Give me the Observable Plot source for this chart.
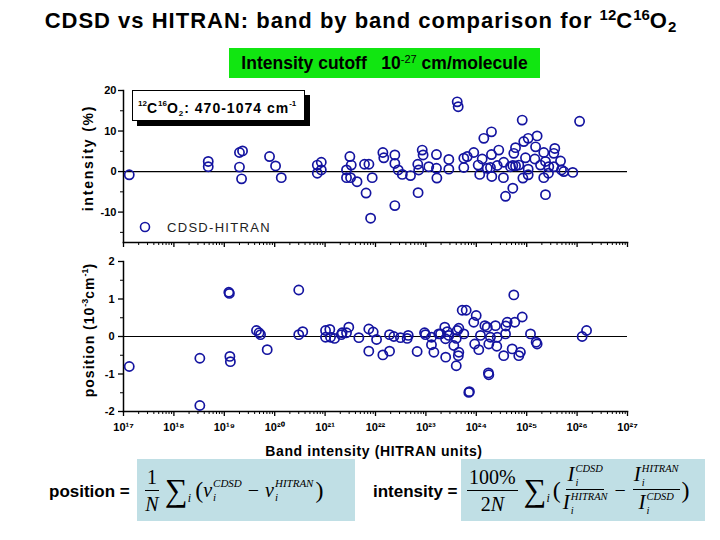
<!DOCTYPE html>
<html><head><meta charset="utf-8">
<script src="https://cdn.jsdelivr.net/npm/d3@7"></script>
<script src="https://cdn.jsdelivr.net/npm/@observablehq/plot@0.6"></script>
<style>
body{margin:0;background:#fff;}
#page{position:relative;width:720px;height:540px;overflow:hidden;background:#fff;font-family:"Liberation Sans",Arial,sans-serif;color:#000;}
.abs{position:absolute;}
#title{left:0;top:8px;width:722px;text-align:center;font-size:22px;font-weight:bold;letter-spacing:1px;white-space:nowrap;}
#title sup{font-size:15px;vertical-align:8px;line-height:0;letter-spacing:0;}
#title sub{font-size:15px;vertical-align:-4px;line-height:0;}
#cutoff{left:229px;top:48px;width:311px;height:30px;background:#11e611;font-size:17.5px;font-weight:bold;line-height:31px;text-align:center;white-space:nowrap;}
#cutoff sup{font-size:11px;vertical-align:6px;line-height:0;font-weight:normal;}
#annot{left:132px;top:90px;width:173px;height:31px;border:1px solid #000;background:#fff;box-shadow:5px 5px 0 #000;font-weight:bold;font-size:14px;line-height:35px;letter-spacing:1px;padding-left:5px;box-sizing:border-box;white-space:nowrap;}
#annot sup{font-size:8px;vertical-align:7px;line-height:0;letter-spacing:0;}
#annot sub{font-size:8px;vertical-align:-3px;line-height:0;}
#legend{left:137px;top:219px;font-size:13px;letter-spacing:1.3px;color:#222;display:flex;align-items:center;white-space:nowrap;}
.ylab{transform:rotate(-90deg);transform-origin:center;font-weight:bold;font-size:14px;white-space:nowrap;text-align:center;width:200px;height:16px;line-height:16px;}
.ylab sup{font-size:9px;vertical-align:6px;line-height:0;letter-spacing:0;}
#xlab{left:0;width:748px;top:443px;text-align:center;font-weight:bold;font-size:14px;letter-spacing:0.6px;}
.plot{position:absolute;left:0;}
.eqlab{font-weight:bold;font-size:17px;white-space:nowrap;}
.fbox{background:#c0dfe5;display:flex;align-items:center;box-sizing:border-box;font-family:"Liberation Serif","Times New Roman",serif;font-size:20px;white-space:nowrap;}
.frac{display:inline-flex;flex-direction:column;align-items:center;line-height:1;margin:0 2px;}
.frac > .num{border-bottom:1px solid #000;padding:0 2px 3px;}
.frac > .den{padding-top:3px;}
.sum{font-size:32px;margin-left:4px;line-height:1;}
.si{font-style:italic;font-size:12px;align-self:flex-end;margin-bottom:15px;}
.it{font-style:italic;}
.ss{display:inline-flex;flex-direction:column;justify-content:space-between;font-size:11px;font-style:italic;height:25px;vertical-align:middle;line-height:1;margin-left:1px;}
.fr2 .ss{font-size:10.5px;height:24px;}
.fr2{font-size:21px;}
.fr2 > .num{padding:0 1px 1px;}
.fr2 > .den{padding-top:2px;}
.op{margin:0 6px;}
.par{font-size:24px;line-height:1;}
</style></head><body><div id="page">
<div id="title" class="abs">CDSD vs HITRAN: band by band comparison for <sup>12</sup>C<sup>16</sup>O<sub>2</sub></div>
<div id="cutoff" class="abs">Intensity cutoff &nbsp;&nbsp;10<sup>-27</sup> cm/molecule</div>
<div id="top" class="plot" style="top:80px"></div>
<div id="bot" class="plot" style="top:251px"></div>
<div id="annot" class="abs"><sup>12</sup>C<sup>16</sup>O<sub>2</sub>: 470-1074 cm<sup>-1</sup></div>
<div id="legend" class="abs"><svg width="16" height="16" style="margin-right:14px"><circle cx="8" cy="8" r="4.5" fill="none" stroke="#1414a0" stroke-width="1.6"/></svg>CDSD-HITRAN</div>
<div class="abs ylab" style="left:-12px;top:150px;letter-spacing:1.8px;">intensity (%)</div>
<div class="abs ylab" style="left:-11px;top:322px;letter-spacing:1px;">position (10<sup>-3</sup>cm<sup>-1</sup>)</div>
<div id="xlab" class="abs">Band intensity (HITRAN units)</div>
<div class="abs eqlab" style="left:49px;top:482px;">position =</div>
<div class="abs fbox" style="left:137px;top:459px;width:218px;height:62px;padding-left:6px;">
  <div class="frac"><span class="num">1</span><span class="den it">N</span></div>
  <span class="sum">∑</span><span class="si">i</span>
  <span class="par" style="margin-left:4px">(</span>
  <span class="it">ν</span><span class="ss"><span>CDSD</span><span>i</span></span>
  <span class="op">−</span>
  <span class="it">ν</span><span class="ss"><span>HITRAN</span><span>i</span></span>
  <span class="par" style="margin-left:2px">)</span>
</div>
<div class="abs eqlab" style="left:373px;top:482px;">intensity =</div>
<div class="abs fbox" style="left:461px;top:459px;width:244px;height:62px;padding-left:4px;">
  <div class="frac"><span class="num">100%</span><span class="den">2<span class="it">N</span></span></div>
  <span class="sum">∑</span><span class="si">i</span>
  <span class="par" style="margin-left:3px">(</span>
  <div class="frac fr2"><span class="num"><span class="it">I</span><span class="ss"><span>CDSD</span><span>i</span></span></span><span class="den"><span class="it">I</span><span class="ss"><span>HITRAN</span><span>i</span></span></span></div>
  <span class="op" style="margin:0 5px">−</span>
  <div class="frac fr2"><span class="num"><span class="it">I</span><span class="ss"><span>HITRAN</span><span>i</span></span></span><span class="den"><span class="it">I</span><span class="ss"><span>CDSD</span><span>i</span></span></span></div>
  <span class="par">)</span>
</div>
</div>
<script>
// Top panel: intensity difference (%) vs HITRAN band intensity
const intensityX = [1.3e17,4.8e18,4.8e18,2.0e19,2.3e19,2.0e19,2.2e19,7.9e19,1.04e20,1.35e20,
  7.0e20,8.4e20,7.0e20,8.4e20,3.1e21,3.3e21,2.66e21,2.66e21,3.2e21,4.3e21,
  6.05e21,7.4e21,8.6e21,6.5e21,8.0e21,1.4e22,1.46e22,2.42e22,2.42e22,2.82e22,
  3.4e22,2.42e22,4.95e22,6.9e22,7.2e22,7.0e22,8.45e22,8.8e22,1.14e23,1.62e23,
  1.62e23,1.65e23,4.18e23,4.37e23,2.85e23,2.85e23,5.65e23,5.65e23,6.6e23,8.9e23,
  1.09e24,1.17e24,1.31e24,1.41e24,2.0e24,1.65e24,2.0e24,2.03e24,1.91e24,2.79e24,
  2.6e24,3.5e24,3.45e24,3.8e24,5.3e24,4.77e24,5.3e24,6.0e24,6.0e24,5.55e24,
  8.15e24,6.97e24,9.46e24,8.75e24,1.07e25,8.4e24,1.07e25,1.07e25,1.5e25,1.61e25,
  1.45e25,1.88e25,2.18e25,2.36e25,2.18e25,2.36e25,2.74e25,3.45e25,3.61e25,3.45e25,
  4.69e25,4.9e25,5.45e25,8.2e25,1.12e26,2.7e25];
const intensityDiff = [-0.8,2.5,1.2,4.7,5.1,1.1,-1.8,3.7,1.4,-1.5,
  1.6,2.3,-0.4,0.4,3.7,1.6,0.4,-1.5,-1.5,-2.5,
  1.8,1.8,-1.5,-5.3,-11.5,4.7,3.4,4.1,2.0,0.4,
  -0.7,-8.4,-1.0,1.8,0.4,-5.2,5.3,4.1,1.2,4.2,
  0.8,-1.6,17.2,16.0,3.0,0.6,3.3,1.0,3.7,4.7,
  1.6,-0.7,3.1,8.2,9.8,0.8,4.2,-1.2,1.0,5.3,
  1.5,2.3,-1.5,-6.1,-4.1,1.2,1.5,1.4,5.9,4.5,
  12.7,1.6,3.4,7.4,8.2,-1.6,0.6,-0.8,6.1,8.8,
  3.1,1.6,4.7,2.5,-1.5,-5.7,1.2,4.5,5.7,1.2,
  2.6,0.4,0.0,-0.2,12.4,-0.4];
// Bottom panel: position difference (1e-3 cm-1) vs HITRAN band intensity
const positionX = [1.3e17,3.27e18,3.27e18,1.23e19,1.26e19,1.29e19,1.32e19,4.35e19,5.23e19,4.9e19,
  7.1e19,3.0e20,3.0e20,3.6e20,1.02e21,1.24e21,1.02e21,1.28e21,1.54e21,2.18e21,
  2.66e21,2.95e21,2.1e21,4.67e21,7.36e21,9.0e21,1.05e22,7.36e21,1.4e22,1.9e22,
  1.9e22,2.31e22,3.13e22,4.46e22,4.25e22,6.7e22,9.4e22,9.8e22,1.29e23,1.29e23,
  1.44e23,1.8e23,1.95e23,2.37e23,2.65e23,2.85e23,2.45e23,4.18e23,4.5e23,5.65e23,
  4.0e23,3.58e23,4.5e23,4.4e23,2.47e23,4.0e23,5.25e23,6.3e23,8.9e23,9.95e23,
  7.1e23,7.3e23,1.21e24,1.48e24,1.65e24,1.91e24,9.3e23,1.12e24,1.77e24,1.74e24,
  1.77e24,2.4e24,2.6e24,2.55e24,3.5e24,3.8e24,3.85e24,4.1e24,5.55e24,5.8e24,
  5.15e24,7.5e24,6.97e24,8.15e24,1.19e25,1.54e25,1.61e25,1.26e26,1.54e26];
const positionDiff = [-0.80,-0.58,-1.84,1.18,1.15,-0.53,-0.67,0.16,0.05,0.10,
  -0.35,1.24,0.05,0.13,0.16,0.19,-0.02,-0.02,-0.05,0.10,
  0.10,0.25,0.05,-0.03,0.20,0.12,-0.08,-0.39,-0.49,-0.39,
  0.05,0.00,-0.03,0.03,-0.05,-0.40,0.10,0.05,-0.02,-0.22,
  -0.42,0.07,0.07,0.25,0.13,0.03,-0.06,0.16,0.22,0.07,
  -0.05,-0.24,-0.42,-0.51,-0.55,-0.78,0.70,0.70,0.38,0.56,
  -1.49,-1.47,0.03,0.29,0.25,-0.02,-0.20,-0.35,-0.20,-0.97,
  -1.02,0.29,-0.02,-0.26,-0.51,0.07,0.28,0.38,1.11,0.38,
  -0.33,-0.42,-0.51,0.52,0.07,-0.15,-0.20,0.00,0.16];
const xTickExponents = [17,18,19,20,21,22,23,24,25,26,27];
const xTickLabels = ["10¹⁷","10¹⁸","10¹⁹","10²⁰","10²¹","10²²","10²³","10²⁴","10²⁵","10²⁶","10²⁷"];
const intensityTicks = [-10,0,10,20];
const intensityMinorTicks = [-15,-5,5,15];
const positionTicks = [-2,-1,0,1,2];
const positionMinorTicks = [-1.5,-0.5,0.5,1.5];

const markerColor = "#1414a0";
const majorX = xTickExponents.map(e => 10 ** e);
const minorX = d3.merge(xTickExponents.slice(0, -1).map(e => d3.range(2, 10).map(k => k * 10 ** e)));
const xLabelOf = d => xTickLabels[xTickExponents.indexOf(Math.round(Math.log10(d)))];
const topData = intensityX.map((x, i) => ({x, y: intensityDiff[i]}));
const botData = positionX.map((x, i) => ({x, y: positionDiff[i]}));

const common = {
  width: 720, marginLeft: 123, marginRight: 93, marginTop: 10,
  x: {type: "log", domain: [1e17, 1e27]},
  style: {fontFamily: "Liberation Sans, Arial, sans-serif", fontSize: "11px", fontWeight: "bold", color: "#000", background: "transparent", overflow: "visible"}
};
const blank = () => "";

const topPlot = Plot.plot({
  ...common, height: 172, marginBottom: 10,
  y: {domain: [-17.5, 20]},
  marks: [
    Plot.axisY({ticks: intensityTicks, tickSize: 5, tickPadding: 2, tickFormat: d => String(d), label: null, strokeWidth: 1.3}),
    Plot.axisY({ticks: intensityMinorTicks, tickSize: 3, tickFormat: blank, label: null}),
    Plot.axisX({ticks: majorX, tickSize: 5, tickFormat: blank, label: null, strokeWidth: 1.3}),
    Plot.axisX({ticks: minorX, tickSize: 3, tickFormat: blank, label: null}),
    Plot.frame({anchor: "left", stroke: "#000", strokeWidth: 1.5}),
    Plot.frame({anchor: "bottom", stroke: "#000", strokeWidth: 1.5}),
    Plot.ruleY([0], {stroke: "#000", strokeWidth: 1.2}),
    Plot.dot(topData, {x: "x", y: "y", r: 4.6, stroke: markerColor, strokeWidth: 1.7, fill: "none"})
  ]
});
document.getElementById("top").append(topPlot);

const botPlot = Plot.plot({
  ...common, height: 190, marginBottom: 30,
  y: {domain: [-2, 2]},
  marks: [
    Plot.axisY({ticks: positionTicks, tickSize: 5, tickPadding: 4, tickFormat: d => String(d), label: null, strokeWidth: 1.3}),
    Plot.axisY({ticks: positionMinorTicks, tickSize: 3, tickFormat: blank, label: null}),
    Plot.axisX({ticks: majorX, tickSize: 5, tickPadding: 7, tickFormat: xLabelOf, label: null, strokeWidth: 1.3, fontSize: 11}),
    Plot.axisX({ticks: minorX, tickSize: 3, tickFormat: blank, label: null}),
    Plot.frame({anchor: "left", stroke: "#000", strokeWidth: 1.5}),
    Plot.frame({anchor: "bottom", stroke: "#000", strokeWidth: 1.5}),
    Plot.ruleY([0], {stroke: "#000", strokeWidth: 1.2}),
    Plot.dot(botData, {x: "x", y: "y", r: 4.6, stroke: markerColor, strokeWidth: 1.7, fill: "none"})
  ]
});
document.getElementById("bot").append(botPlot);
</script>
</body></html>
